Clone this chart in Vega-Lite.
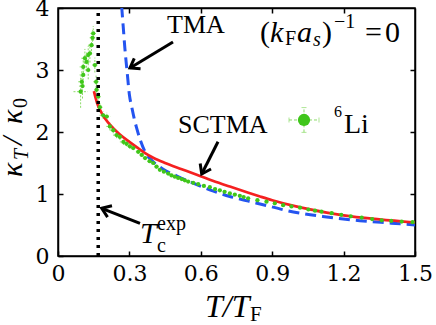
{
 "$schema": "https://vega.github.io/schema/vega-lite/v6.json",
 "width": 357, "height": 248,
 "autosize": {"type": "none"},
 "padding": {"left": 58, "top": 8, "right": 21, "bottom": 69},
 "background": "white",
 "config": {
  "view": {"stroke": "black", "strokeWidth": 1.5},
  "axis": {"domainColor": "black", "domainWidth": 1.5, "tickColor": "black", "tickWidth": 1.5, "tickSize": -5,
   "labelFont": "DejaVu Serif", "labelFontSize": 22, "labelColor": "black", "grid": false,
   "labelFlush": false, "labelOverlap": false, "labelBound": false}
 },
 "datasets": {
  "li": [
   {"T":0.148,"v":3.59,"ex":0.012,"ey":0.12},{"T":0.145,"v":3.52,"ex":0.012,"ey":0.12},
   {"T":0.141,"v":3.40,"ex":0.015,"ey":0.15},{"T":0.134,"v":3.27,"ex":0.015,"ey":0.15},
   {"T":0.127,"v":3.24,"ex":0.015,"ey":0.15},{"T":0.113,"v":3.19,"ex":0.015,"ey":0.15},
   {"T":0.120,"v":3.13,"ex":0.015,"ey":0.15},{"T":0.106,"v":3.05,"ex":0.015,"ey":0.15},
   {"T":0.155,"v":3.08,"ex":0.012,"ey":0.12},{"T":0.127,"v":3.00,"ex":0.015,"ey":0.15},
   {"T":0.106,"v":2.92,"ex":0.015,"ey":0.2},{"T":0.160,"v":2.81,"ex":0.012,"ey":0.1},
   {"T":0.100,"v":2.81,"ex":0.015,"ey":0.2},{"T":0.103,"v":2.74,"ex":0.015,"ey":0.2},
   {"T":0.095,"v":2.65,"ex":0.03,"ey":0.26},{"T":0.162,"v":2.68,"ex":0.01,"ey":0.1},
   {"T":0.169,"v":2.57,"ex":0.01,"ey":0.08},{"T":0.176,"v":2.40,"ex":0.012,"ey":0.08},
   {"T":0.190,"v":2.27,"ex":0.015,"ey":0.06},{"T":0.205,"v":2.25,"ex":0.015,"ey":0.06},
   {"T":0.218,"v":2.09,"ex":0.015,"ey":0.06},{"T":0.232,"v":2.03,"ex":0.015,"ey":0.05},
   {"T":0.246,"v":1.95,"ex":0.015,"ey":0.05},{"T":0.260,"v":1.92,"ex":0.015,"ey":0.05},
   {"T":0.275,"v":1.84,"ex":0.015,"ey":0.05},{"T":0.288,"v":1.81,"ex":0.012,"ey":0.04},
   {"T":0.302,"v":1.77,"ex":0.01,"ey":0.04},{"T":0.316,"v":1.74,"ex":0.01,"ey":0.03},
   {"T":0.337,"v":1.68,"ex":0.01,"ey":0.03},{"T":0.352,"v":1.63,"ex":0.01,"ey":0.03},
   {"T":0.366,"v":1.58,"ex":0.01,"ey":0.03},{"T":0.385,"v":1.53,"ex":0.01,"ey":0.03},
   {"T":0.400,"v":1.50,"ex":0.01,"ey":0.03},{"T":0.414,"v":1.44,"ex":0.01,"ey":0.03},
   {"T":0.428,"v":1.39,"ex":0.008,"ey":0.02},{"T":0.445,"v":1.36,"ex":0.008,"ey":0.02},
   {"T":0.463,"v":1.33,"ex":0.008,"ey":0.02},{"T":0.477,"v":1.30,"ex":0.008,"ey":0.02},
   {"T":0.491,"v":1.28,"ex":0.008,"ey":0.02},{"T":0.505,"v":1.26,"ex":0.008,"ey":0.02},
   {"T":0.520,"v":1.24,"ex":0.008,"ey":0.02},{"T":0.533,"v":1.22,"ex":0.008,"ey":0.02},
   {"T":0.547,"v":1.20,"ex":0.008,"ey":0.02},{"T":0.568,"v":1.18,"ex":0.008,"ey":0.02},
   {"T":0.589,"v":1.16,"ex":0.008,"ey":0.02},{"T":0.613,"v":1.13,"ex":0.008,"ey":0.02},
   {"T":0.638,"v":1.11,"ex":0.008,"ey":0.02},{"T":0.660,"v":1.08,"ex":0.008,"ey":0.02},
   {"T":0.680,"v":1.06,"ex":0.008,"ey":0.02},{"T":0.700,"v":1.035,"ex":0.008,"ey":0.02},
   {"T":0.722,"v":1.01,"ex":0.008,"ey":0.02},{"T":0.743,"v":0.99,"ex":0.008,"ey":0.02},
   {"T":0.764,"v":0.97,"ex":0.008,"ey":0.02},{"T":0.780,"v":0.95,"ex":0.008,"ey":0.02},
   {"T":0.799,"v":0.93,"ex":0.008,"ey":0.02},{"T":0.838,"v":0.90,"ex":0.008,"ey":0.02},
   {"T":0.876,"v":0.876,"ex":0.008,"ey":0.02},{"T":0.911,"v":0.85,"ex":0.008,"ey":0.02},
   {"T":0.946,"v":0.82,"ex":0.008,"ey":0.02},{"T":0.981,"v":0.80,"ex":0.008,"ey":0.02},
   {"T":1.017,"v":0.78,"ex":0.008,"ey":0.02},{"T":1.052,"v":0.75,"ex":0.008,"ey":0.02},
   {"T":1.080,"v":0.73,"ex":0.008,"ey":0.02},{"T":1.107,"v":0.715,"ex":0.008,"ey":0.02},
   {"T":1.150,"v":0.69,"ex":0.008,"ey":0.02},{"T":1.190,"v":0.665,"ex":0.008,"ey":0.02},
   {"T":1.230,"v":0.64,"ex":0.008,"ey":0.02},{"T":1.276,"v":0.62,"ex":0.008,"ey":0.02},
   {"T":1.320,"v":0.595,"ex":0.008,"ey":0.02},{"T":1.360,"v":0.575,"ex":0.008,"ey":0.02},
   {"T":1.400,"v":0.565,"ex":0.008,"ey":0.02},{"T":1.444,"v":0.555,"ex":0.008,"ey":0.02},
   {"T":1.490,"v":0.545,"ex":0.008,"ey":0.02}
  ],
  "legend": [{"T":1.0336,"v":2.194,"ex":0.063,"ey":0.2}]
 },
 "encoding": {
  "x": {"field": "T", "type": "quantitative", "scale": {"domain": [0, 1.5], "nice": false, "zero": false}, "axis": null},
  "y": {"field": "v", "type": "quantitative", "scale": {"domain": [0, 4], "nice": false, "zero": false}, "axis": null}
 },
 "layer": [
  {"data": {"name": "li"}, "mark": {"type": "errorbar", "color": "#8ddc6a", "thickness": 1, "rule": {"strokeDash": [2, 1.5]}},
   "encoding": {"yError": {"field": "ey"}}},
  {"data": {"name": "li"}, "mark": {"type": "errorbar", "color": "#8ddc6a", "thickness": 1, "rule": {"strokeDash": [2, 1.5]}},
   "encoding": {"xError": {"field": "ex"}}},
  {"data": {"values": [
    {"T":0.262,"v":4.3},{"T":0.268,"v":4.0},{"T":0.274,"v":3.7},{"T":0.281,"v":3.35},{"T":0.291,"v":2.95},
    {"T":0.300,"v":2.6},{"T":0.310,"v":2.4},{"T":0.320,"v":2.22},{"T":0.330,"v":2.07},{"T":0.345,"v":1.88},
    {"T":0.366,"v":1.68},{"T":0.400,"v":1.52},{"T":0.442,"v":1.40},{"T":0.500,"v":1.29},{"T":0.583,"v":1.15},
    {"T":0.650,"v":1.05},{"T":0.722,"v":0.96},{"T":0.800,"v":0.885},{"T":0.849,"v":0.84},{"T":0.989,"v":0.71},
    {"T":1.129,"v":0.63},{"T":1.268,"v":0.57},{"T":1.400,"v":0.53},{"T":1.500,"v":0.50}]},
   "mark": {"type": "line", "color": "#2454f0", "strokeWidth": 3, "strokeDash": [11, 6], "interpolate": "monotone", "clip": true},
   "encoding": {
    "x": {"field": "T", "type": "quantitative", "scale": {"domain": [0, 1.5], "nice": false, "zero": false},
      "axis": {"orient": "top", "values": [0.3, 0.6, 0.9, 1.2], "labels": false, "title": null, "tickSize": -5, "tickWidth": 1.5, "tickColor": "black", "domainColor": "black", "domainWidth": 1.5}},
    "y": {"field": "v", "type": "quantitative", "scale": {"domain": [0, 4], "nice": false, "zero": false},
      "axis": {"orient": "right", "values": [1, 2, 3], "labels": false, "title": null, "tickSize": -5, "tickWidth": 1.5, "tickColor": "black", "domainColor": "black", "domainWidth": 1.5}}
   }},
  {"data": {"values": [
    {"T":0.151,"v":2.66},{"T":0.158,"v":2.55},{"T":0.165,"v":2.46},{"T":0.175,"v":2.37},{"T":0.190,"v":2.26},
    {"T":0.211,"v":2.15},{"T":0.232,"v":2.06},{"T":0.260,"v":1.96},{"T":0.300,"v":1.84},{"T":0.340,"v":1.73},
    {"T":0.366,"v":1.66},{"T":0.400,"v":1.585},{"T":0.450,"v":1.50},{"T":0.520,"v":1.40},{"T":0.583,"v":1.31},
    {"T":0.650,"v":1.215},{"T":0.722,"v":1.12},{"T":0.800,"v":1.02},{"T":0.849,"v":0.96},{"T":0.900,"v":0.90},
    {"T":1.000,"v":0.80},{"T":1.129,"v":0.70},{"T":1.200,"v":0.655},{"T":1.350,"v":0.59},{"T":1.500,"v":0.54}]},
   "mark": {"type": "line", "color": "#f52020", "strokeWidth": 2.7, "interpolate": "monotone", "clip": true},
   "encoding": {
    "x": {"field": "T", "type": "quantitative", "scale": {"domain": [0, 1.5], "nice": false, "zero": false},
      "axis": {"orient": "bottom", "values": [0, 0.3, 0.6, 0.9, 1.2, 1.5], "labelExpr": "datum.value == 0 ? '0' : format(datum.value, '.1f')",
        "labelPadding": 12, "title": null, "labelFont": "DejaVu Serif", "labelFontSize": 22, "labelColor": "black",
        "tickSize": -5, "tickWidth": 1.5, "tickColor": "black", "domainColor": "black", "domainWidth": 1.5, "labelFlush": false, "labelOverlap": false}},
    "y": {"field": "v", "type": "quantitative", "scale": {"domain": [0, 4], "nice": false, "zero": false},
      "axis": {"orient": "left", "values": [0, 1, 2, 3, 4], "format": "d", "labelPadding": 14, "title": null,
        "labelFont": "DejaVu Serif", "labelFontSize": 22, "labelColor": "black",
        "tickSize": -5, "tickWidth": 1.5, "tickColor": "black", "domainColor": "black", "domainWidth": 1.5, "labelFlush": false, "labelOverlap": false}}
   }},
  {"data": {"name": "li"}, "mark": {"type": "point", "filled": true, "color": "#3fc61a", "size": 18, "opacity": 1}},
  {"data": {"values": [{"T": 0.169, "v": 0, "v2": 4}]}, "mark": {"type": "rule", "color": "black", "strokeWidth": 3.5, "strokeDash": [3, 5]},
   "encoding": {"y2": {"field": "v2"}}},
  {"data": {"name": "legend"}, "mark": {"type": "errorbar", "color": "#8ddc6a", "thickness": 1, "ticks": {"size": 5}, "rule": {"strokeDash": [3, 2]}},
   "encoding": {"yError": {"field": "ey"}}},
  {"data": {"name": "legend"}, "mark": {"type": "errorbar", "color": "#8ddc6a", "thickness": 1, "ticks": {"size": 5}, "rule": {"strokeDash": [3, 2]}},
   "encoding": {"xError": {"field": "ex"}}},
  {"data": {"name": "legend"}, "mark": {"type": "point", "filled": true, "color": "#3fc61a", "size": 150, "opacity": 1}},
  {"data": {"values": [
    {"T":0.4832,"v":3.4516,"T2":0.3025,"v2":3.0323},
    {"T":0.6723,"v":1.8435,"T2":0.6038,"v2":1.3226},
    {"T":0.3445,"v":0.5274,"T2":0.1836,"v2":0.7694}]},
   "mark": {"type": "rule", "color": "black", "strokeWidth": 3},
   "encoding": {"x2": {"field": "T2"}, "y2": {"field": "v2"}}},
  {"data": {"values": [{"T":0.3025,"v":3.0323}]}, "mark": {"type": "point", "shape": "M-1,-0.7L0,0L-1,0.7", "filled": false, "stroke": "black", "strokeWidth": 3, "size": 300, "angle": 148.8, "opacity": 1}},
  {"data": {"values": [{"T":0.6038,"v":1.3226}]}, "mark": {"type": "point", "shape": "M-1,-0.7L0,0L-1,0.7", "filled": false, "stroke": "black", "strokeWidth": 3, "size": 300, "angle": 116.8, "opacity": 1}},
  {"data": {"values": [{"T":0.1836,"v":0.7694}]}, "mark": {"type": "point", "shape": "M-1,-0.7L0,0L-1,0.7", "filled": false, "stroke": "black", "strokeWidth": 3, "size": 300, "angle": 201.4, "opacity": 1}},
  {"data": {"values": [{"T":0.458,"v":3.597,"t":"TMA"},{"T":0.504,"v":1.984,"t":"SCTMA"}]},
   "mark": {"type": "text", "font": "Liberation Serif", "fontSize": 26, "align": "left", "baseline": "alphabetic", "color": "black"},
   "encoding": {"text": {"field": "t"}}},
  {"data": {"values": [{"T":0.8487,"v":3.452,"t":"("},{"T":1.1092,"v":3.452,"t":")"},{"T":1.2899,"v":3.452,"t":"="},{"T":1.3739,"v":3.452,"t":"0"}]},
   "mark": {"type": "text", "font": "Liberation Serif", "fontSize": 30, "align": "left", "baseline": "alphabetic", "color": "black"},
   "encoding": {"text": {"field": "t"}}},
  {"data": {"values": [{"T":0.8908,"v":3.452,"t":"k"},{"T":1.0042,"v":3.452,"t":"a"}]},
   "mark": {"type": "text", "font": "Liberation Serif", "fontStyle": "italic", "fontSize": 30, "align": "left", "baseline": "alphabetic", "color": "black"},
   "encoding": {"text": {"field": "t"}}},
  {"data": {"values": [{"T":0.9538,"v":3.403,"t":"F"}]},
   "mark": {"type": "text", "font": "Liberation Serif", "fontSize": 20, "align": "left", "baseline": "alphabetic", "color": "black"},
   "encoding": {"text": {"field": "t"}}},
  {"data": {"values": [{"T":1.0714,"v":3.387,"t":"s"}]},
   "mark": {"type": "text", "font": "Liberation Serif", "fontStyle": "italic", "fontSize": 20, "align": "left", "baseline": "alphabetic", "color": "black"},
   "encoding": {"text": {"field": "t"}}},
  {"data": {"values": [{"T":1.1597,"v":3.673,"t":"−1"}]},
   "mark": {"type": "text", "font": "Liberation Serif", "fontSize": 20, "align": "left", "baseline": "alphabetic", "color": "black"},
   "encoding": {"text": {"field": "t"}}},
  {"data": {"values": [{"T":0.3445,"v":0.2097,"t":"T"}]},
   "mark": {"type": "text", "font": "Liberation Serif", "fontStyle": "italic", "fontSize": 30, "align": "left", "baseline": "alphabetic", "color": "black"},
   "encoding": {"text": {"field": "t"}}},
  {"data": {"values": [{"T":0.416,"v":0.419,"t":"exp"},{"T":0.416,"v":0.070,"t":"c"}]},
   "mark": {"type": "text", "font": "Liberation Serif", "fontSize": 20, "align": "left", "baseline": "alphabetic", "color": "black"},
   "encoding": {"text": {"field": "t"}}},
  {"data": {"values": [{"T":1.16,"v":2.242,"t":"6"}]},
   "mark": {"type": "text", "font": "Liberation Serif", "fontSize": 16, "align": "left", "baseline": "alphabetic", "color": "black"},
   "encoding": {"text": {"field": "t"}}},
  {"data": {"values": [{"T":1.2017,"v":1.984,"t":"Li"}]},
   "mark": {"type": "text", "font": "Liberation Serif", "fontSize": 28, "align": "left", "baseline": "alphabetic", "color": "black"},
   "encoding": {"text": {"field": "t"}}},
  {"data": {"values": [{"T":0.6176,"v":-0.99,"t":"T/T"}]},
   "mark": {"type": "text", "font": "Liberation Serif", "fontStyle": "italic", "fontSize": 32, "align": "left", "baseline": "alphabetic", "color": "black"},
   "encoding": {"text": {"field": "t"}}},
  {"data": {"values": [{"T":0.8067,"v":-1.045,"t":"F"}]},
   "mark": {"type": "text", "font": "Liberation Serif", "fontSize": 21, "align": "left", "baseline": "alphabetic", "color": "black"},
   "encoding": {"text": {"field": "t"}}},
  {"data": {"values": [{"T":-0.1513,"v":1.274,"t":"κ"},{"T":-0.1513,"v":1.790,"t":"/"},{"T":-0.1513,"v":2.129,"t":"κ"}]},
   "mark": {"type": "text", "font": "Liberation Serif", "fontStyle": "italic", "fontSize": 30, "angle": 270, "align": "left", "baseline": "alphabetic", "color": "black"},
   "encoding": {"text": {"field": "t"}}},
  {"data": {"values": [{"T":-0.126,"v":1.548,"t":"T"}]},
   "mark": {"type": "text", "font": "Liberation Serif", "fontStyle": "italic", "fontSize": 20, "angle": 270, "align": "left", "baseline": "alphabetic", "color": "black"},
   "encoding": {"text": {"field": "t"}}},
  {"data": {"values": [{"T":-0.1303,"v":2.387,"t":"0"}]},
   "mark": {"type": "text", "font": "Liberation Serif", "fontSize": 20, "angle": 270, "align": "left", "baseline": "alphabetic", "color": "black"},
   "encoding": {"text": {"field": "t"}}}
 ],
 "resolve": {"axis": {"x": "independent", "y": "independent"}}
}
